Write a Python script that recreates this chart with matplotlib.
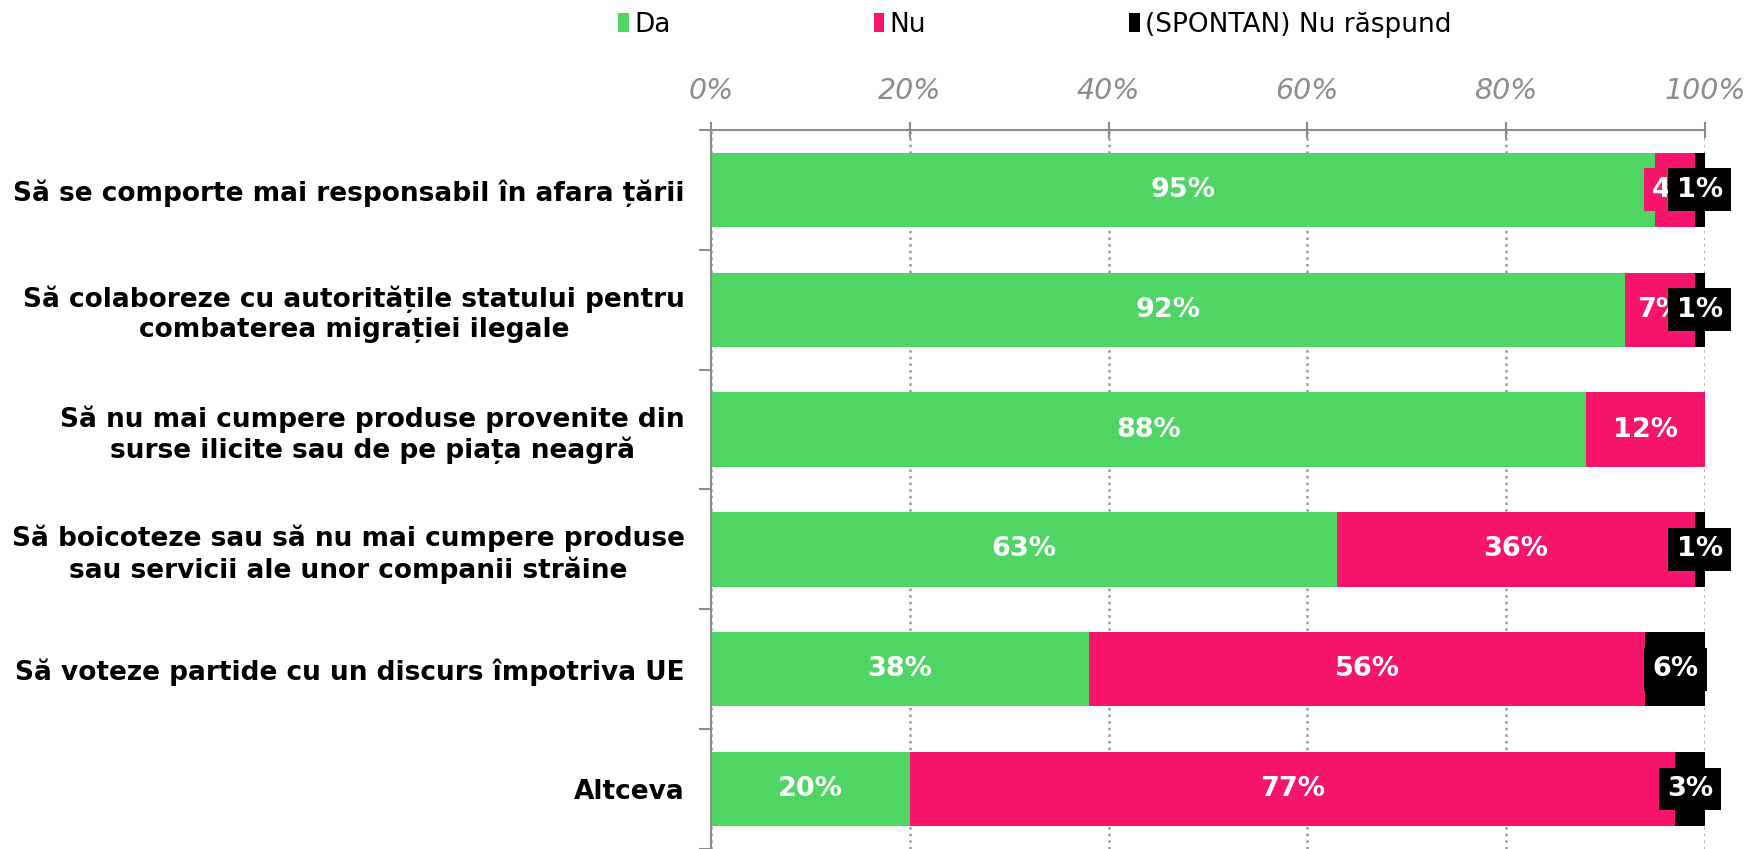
import numpy as np
import matplotlib.pyplot as plt

# survey answers per statement, in percent
categories = [
    'Să se comporte mai responsabil în afara țării',
    'Să colaboreze cu autoritățile statului pentru\ncombaterea migrației ilegale',
    'Să nu mai cumpere produse provenite din\nsurse ilicite sau de pe piața neagră',
    'Să boicoteze sau să nu mai cumpere produse\nsau servicii ale unor companii străine',
    'Să voteze partide cu un discurs împotriva UE',
    'Altceva',
]
da = [95, 92, 88, 63, 38, 20]
nu = [4, 7, 12, 36, 56, 77]
nr = [1, 1, 0, 1, 6, 3]
series_names = ['Da', 'Nu', '(SPONTAN) Nu răspund']
xticks = [0, 20, 40, 60, 80, 100]

colors = ['#4fd564', '#f7146b', '#000000']
gray = '#8c8c8c'

fig = plt.figure(figsize=(17.45, 8.49), dpi=100)
ax = fig.add_axes([0.4075, 0.0, 0.5695, 0.847])

y = np.arange(len(categories))
left = np.zeros(len(categories))
handles = []
for k, (vals, col, name) in enumerate(zip([da, nu, nr], colors, series_names)):
    vals = np.array(vals, dtype=float)
    b = ax.barh(y, vals, left=left, height=0.62, color=col, label=name, zorder=2)
    handles.append(b)
    for yi, l, v in zip(y, left, vals):
        if v == 0:
            continue
        ax.text(l + v / 2, yi, f'{int(v)}%', ha='center', va='center',
                color='white', fontsize=19.5, fontweight='bold', zorder=3 + k,
                bbox=dict(facecolor=col, edgecolor='none', pad=6))
    left += vals

ax.set_xlim(0, 100)
ax.set_ylim(5.5, -0.5)
ax.xaxis.tick_top()
ax.set_xticks(xticks)
ax.set_xticklabels([f'{t}%' for t in xticks], fontstyle='italic')
ax.tick_params(axis='x', direction='inout', length=12, width=1.5, color=gray,
               labelcolor=gray, labelsize=20.5, pad=12)
ax.xaxis.grid(True, linestyle=':', color='#9a9a9a', linewidth=1.8)
ax.set_axisbelow(True)

ax.set_yticks(y)
ax.set_yticklabels(categories, fontsize=19, fontweight='bold', multialignment='center')
ax.tick_params(axis='y', which='major', length=0, pad=19)
ax.set_yticks(np.arange(-0.5, len(categories)), minor=True)
ax.tick_params(axis='y', which='minor', direction='out', length=9, width=1.5, color=gray)

for s in ['right', 'bottom']:
    ax.spines[s].set_visible(False)
for s in ['top', 'left']:
    ax.spines[s].set_color(gray)
    ax.spines[s].set_linewidth(1.5)

fig.legend(handles=handles, loc='center', bbox_to_anchor=(0.593, 1 - 25 / 849),
           ncol=3, frameon=False, handlelength=0.4, handleheight=0.75,
           handletextpad=0.2, columnspacing=7.7, fontsize=19)

fig.savefig('out.png', dpi=100)
